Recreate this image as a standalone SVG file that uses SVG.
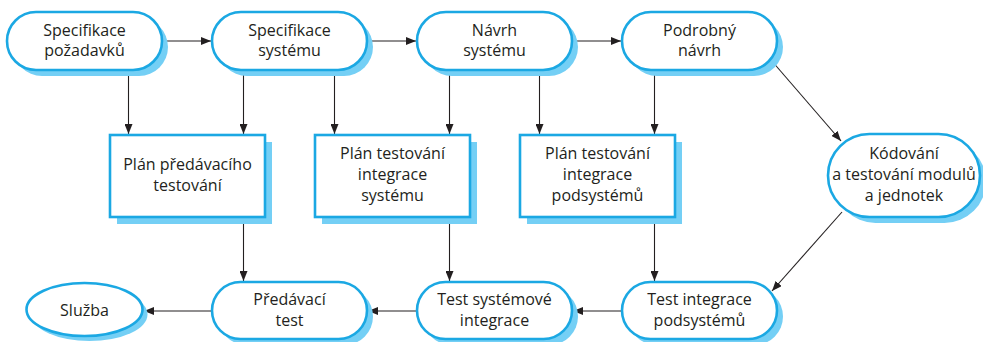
<svg xmlns="http://www.w3.org/2000/svg" width="983" height="342" viewBox="0 0 983 342">
<style>
.sh{fill:#74cff5;stroke:none}
.nd{fill:#fff;stroke:#1ba8e3;stroke-width:2.6}
.t{font-family:"Open Sans","Liberation Sans",sans-serif;font-size:16px;fill:#231f20;text-anchor:middle}
.c{stroke:#231f20;stroke-width:1.1;fill:none;marker-end:url(#ah)}
</style>
<defs>
<marker id="ah" viewBox="0 0 10 8" refX="10" refY="4" markerWidth="10" markerHeight="8" markerUnits="userSpaceOnUse" orient="auto">
<path d="M0,0 L10,4 L0,8 Z" fill="#231f20"/>
</marker>
</defs>
<g id="connectors">
<line class="c" x1="162" y1="41" x2="211" y2="41"/>
<line class="c" x1="367" y1="41" x2="416" y2="41"/>
<line class="c" x1="572" y1="41" x2="621" y2="41"/>
<line class="c" x1="128.5" y1="70" x2="128.5" y2="134"/>
<line class="c" x1="243.5" y1="70" x2="243.5" y2="134"/>
<line class="c" x1="334.5" y1="70" x2="334.5" y2="134"/>
<line class="c" x1="449.5" y1="70" x2="449.5" y2="134"/>
<line class="c" x1="539.5" y1="70" x2="539.5" y2="134"/>
<line class="c" x1="654.5" y1="70" x2="654.5" y2="134"/>
<line class="c" x1="771" y1="60" x2="841" y2="141"/>
<line class="c" x1="842" y1="212" x2="772" y2="291"/>
<line class="c" x1="243.5" y1="217" x2="243.5" y2="281"/>
<line class="c" x1="449.5" y1="217" x2="449.5" y2="281"/>
<line class="c" x1="654.5" y1="217" x2="654.5" y2="281"/>
<line class="c" x1="622" y1="311" x2="573" y2="311"/>
<line class="c" x1="417" y1="311" x2="368" y2="311"/>
<line class="c" x1="212" y1="311" x2="144" y2="311"/>
</g>
<g id="n1">
<rect class="sh" x="13" y="18" width="155" height="58" rx="29"/>
<rect class="nd" x="7" y="12" width="155" height="58" rx="29"/>
<text class="t" x="84.5" y="36">Specifikace</text>
<text class="t" x="84.5" y="56">požadavků</text>
</g>
<g id="n2">
<rect class="sh" x="218" y="18" width="155" height="58" rx="29"/>
<rect class="nd" x="212" y="12" width="155" height="58" rx="29"/>
<text class="t" x="289.5" y="36">Specifikace</text>
<text class="t" x="289.5" y="56">systému</text>
</g>
<g id="n3">
<rect class="sh" x="423" y="18" width="155" height="58" rx="29"/>
<rect class="nd" x="417" y="12" width="155" height="58" rx="29"/>
<text class="t" x="494.5" y="36">Návrh</text>
<text class="t" x="494.5" y="56">systému</text>
</g>
<g id="n4">
<rect class="sh" x="628" y="18" width="155" height="58" rx="29"/>
<rect class="nd" x="622" y="12" width="155" height="58" rx="29"/>
<text class="t" x="699.5" y="36">Podrobný</text>
<text class="t" x="699.5" y="56">návrh</text>
</g>
<g id="b1">
<rect class="sh" x="117" y="142" width="155" height="82"/>
<rect class="nd" x="110" y="135" width="155" height="82"/>
<text class="t" x="187.5" y="170">Plán předávacího</text>
<text class="t" x="187.5" y="191">testování</text>
</g>
<g id="b2">
<rect class="sh" x="322" y="142" width="155" height="82"/>
<rect class="nd" x="315" y="135" width="155" height="82"/>
<text class="t" x="392.5" y="159">Plán testování</text>
<text class="t" x="392.5" y="180">integrace</text>
<text class="t" x="392.5" y="201">systému</text>
</g>
<g id="b3">
<rect class="sh" x="527" y="142" width="155" height="82"/>
<rect class="nd" x="520" y="135" width="155" height="82"/>
<text class="t" x="597.5" y="159">Plán testování</text>
<text class="t" x="597.5" y="180">integrace</text>
<text class="t" x="597.5" y="201">podsystémů</text>
</g>
<g id="n5">
<rect class="sh" x="834" y="140" width="152" height="83" rx="41.5"/>
<rect class="nd" x="828" y="134" width="152" height="83" rx="41.5"/>
<text class="t" x="904" y="159">Kódování</text>
<text class="t" x="904" y="180">a testování modulů</text>
<text class="t" x="904" y="201">a jednotek</text>
</g>
<g id="n6">
<rect class="sh" x="628" y="288" width="155" height="57" rx="28.5"/>
<rect class="nd" x="622" y="282" width="155" height="57" rx="28.5"/>
<text class="t" x="699.5" y="305">Test integrace</text>
<text class="t" x="699.5" y="326">podsystémů</text>
</g>
<g id="n7">
<rect class="sh" x="423" y="288" width="155" height="57" rx="28.5"/>
<rect class="nd" x="417" y="282" width="155" height="57" rx="28.5"/>
<text class="t" x="494.5" y="305">Test systémové</text>
<text class="t" x="494.5" y="326">integrace</text>
</g>
<g id="n8">
<rect class="sh" x="218" y="288" width="155" height="57" rx="28.5"/>
<rect class="nd" x="212" y="282" width="155" height="57" rx="28.5"/>
<text class="t" x="289.5" y="305">Předávací</text>
<text class="t" x="289.5" y="326">test</text>
</g>
<g id="n9">
<ellipse class="sh" cx="89.5" cy="314.5" rx="58" ry="26.5"/>
<ellipse class="nd" cx="84.5" cy="309.5" rx="58" ry="26.5"/>
<text class="t" x="84.5" y="316">Služba</text>
</g>
</svg>
